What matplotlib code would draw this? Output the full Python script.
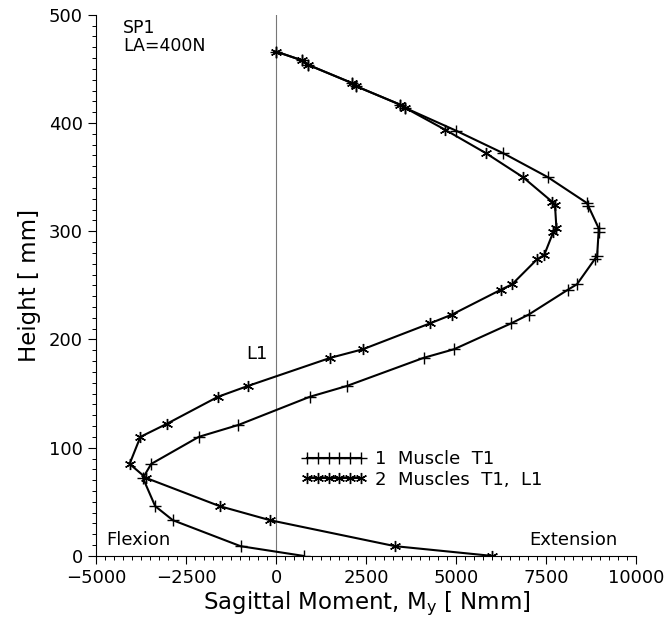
import matplotlib
matplotlib.use("Agg")
import matplotlib.pyplot as plt
from matplotlib.ticker import MultipleLocator

# ----------------- DATA -----------------
# heights [mm] and sagittal moments [Nmm]
one_muscle_height = [466, 458, 454, 437, 434, 417, 414, 393, 372, 350, 326, 323,
                     303, 299, 277, 274, 251, 246, 223, 215, 191, 183, 157, 147,
                     121, 110, 85, 72, 46, 33, 9, 0]
one_muscle_moment = [0, 710, 870, 2100, 2220, 3440, 3580, 4990, 6310, 7540, 8630, 8670,
                     8950, 8950, 8910, 8840, 8350, 8100, 7010, 6530, 4940, 4090, 1960, 930,
                     -1050, -2150, -3470, -3700, -3360, -2870, -990, 760]

two_muscle_height = [466, 458, 454, 437, 434, 417, 414, 394, 372, 350, 327, 324,
                     303, 299, 278, 274, 251, 246, 223, 215, 191, 183, 157, 147,
                     122, 110, 85, 72, 46, 33, 9, 0]
two_muscle_moment = [0, 710, 870, 2100, 2220, 3440, 3580, 4680, 5830, 6850, 7670, 7740,
                     7780, 7690, 7440, 7240, 6550, 6240, 4880, 4280, 2410, 1500, -790, -1620,
                     -3040, -3770, -4070, -3610, -1570, -170, 3300, 6000]

labels = ["1  Muscle  T1", "2  Muscles  T1,  L1"]

# ----------------- PLOT -----------------
plt.rcParams["font.family"] = ["DejaVu Sans"]

fig = plt.figure(figsize=(6.72, 6.17), dpi=100)
ax = fig.add_axes([0.143, 0.099, 0.804, 0.877])

ax.axvline(0, color="#777777", lw=0.8, zorder=1)

ax.plot(one_muscle_moment, one_muscle_height, color="black", lw=1.5,
        marker="+", markersize=9, markeredgewidth=1.0, label=labels[0], zorder=3)
ax.plot(two_muscle_moment, two_muscle_height, color="black", lw=1.5,
        marker=(6, 2, 0), markersize=8, markeredgewidth=1.0, label=labels[1], zorder=3)

ax.set_xlim(-5000, 10000)
ax.set_ylim(0, 500)
ax.xaxis.set_major_locator(MultipleLocator(2500))
ax.xaxis.set_minor_locator(MultipleLocator(250))
ax.yaxis.set_major_locator(MultipleLocator(100))
ax.yaxis.set_minor_locator(MultipleLocator(10))
ax.tick_params(which="major", direction="out", length=6, width=0.8, labelsize=13)
ax.tick_params(which="minor", direction="out", length=3, width=0.7)

for side in ["top", "right"]:
    ax.spines[side].set_visible(False)
for side in ["left", "bottom"]:
    ax.spines[side].set_linewidth(0.8)

ax.set_xlabel(r"Sagittal Moment, M$_\mathregular{y}$ [ Nmm]", fontsize=16.5, labelpad=2)
ax.set_ylabel("Height [ mm]", fontsize=16.5, labelpad=6)

ax.text(0.05, 0.993, "SP1\nLA=400N", transform=ax.transAxes, fontsize=12.5,
        va="top", ha="left", linespacing=1.0)
ax.text(-250, 178, "L1", fontsize=13, ha="right", va="bottom")
ax.text(0.018, 0.012, "Flexion", transform=ax.transAxes, fontsize=13, ha="left", va="bottom")
ax.text(0.965, 0.012, "Extension", transform=ax.transAxes, fontsize=13, ha="right", va="bottom")

ax.legend(loc="center left", bbox_to_anchor=(0.35, 0.16), frameon=False,
          numpoints=6, handlelength=3.6, handletextpad=0.5, fontsize=13,
          labelspacing=0.15)

fig.savefig("out.png", dpi=100)
